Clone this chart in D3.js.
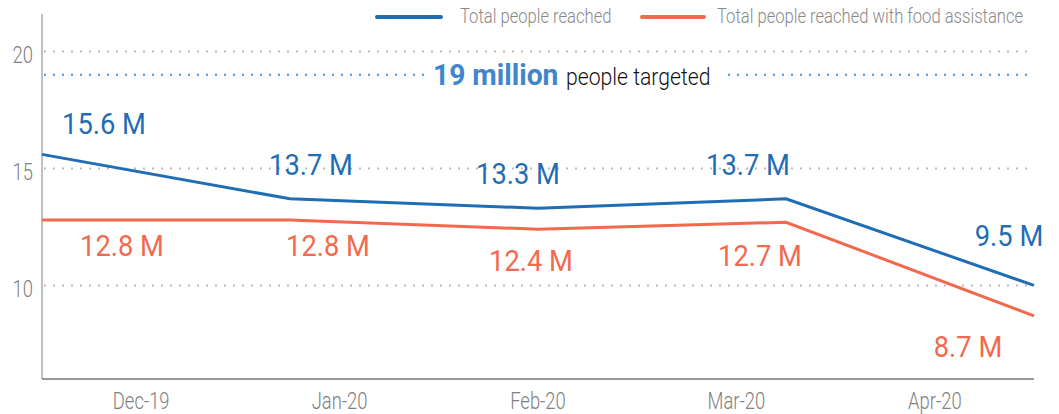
<!DOCTYPE html>
<html>
<head>
<title>People reached</title>
<script src="https://d3js.org/d3.v7.min.js"></script>
</head>
<body style="margin:0">
<style>
text { font-family: Roboto, "Noto Sans", sans-serif; }
</style>
<script>

// data
var months = ['Dec-19','Jan-20','Feb-20','Mar-20','Apr-20'];
var reached = [15.6, 13.7, 13.3, 13.7, 10.0];
var reachedLabels = ['15.6 M','13.7 M','13.3 M','13.7 M','9.5 M'];
var food = [12.8, 12.8, 12.4, 12.7, 8.7];
var foodLabels = ['12.8 M','12.8 M','12.4 M','12.7 M','8.7 M'];
var yTicks = [10, 15, 20];
var target = 19;
var seriesNames = ['Total people reached', 'Total people reached with food assistance'];

// label offsets from each point (placement only)
var reachedOff = [[62,-20],[21,-24],[-20,-24],[-38,-24],[-25,-39]];
var foodOff = [[80,36],[38,36],[-7,42],[-26,44],[-66,41]];

var blue = '#1f6db4', red = '#f2694e';

var W = 1059, H = 414;
var plotL = 42, plotR = 1034, plotT = 14, plotB = 379;

var svg = d3.select('body').append('svg').attr('width', W).attr('height', H);

var x = d3.scalePoint().domain(months).range([plotL, plotR]);
var xBand = d3.scaleBand().domain(months).range([plotL, plotR]);
var y = d3.scaleLinear().domain([6, 21.6]).range([plotB, plotT]);

// squeeze text to mimic a condensed face
function condense(sel, k) {
	sel.each(function(){
		var t = d3.select(this);
		t.attr('textLength', this.getComputedTextLength() * k).attr('lengthAdjust', 'spacingAndGlyphs');
	});
}

// grid
svg.selectAll('.grid').data(yTicks).enter().append('line')
	.attr('x1', plotL + 2).attr('x2', plotR)
	.attr('y1', function(d){ return y(d); }).attr('y2', function(d){ return y(d); })
	.style('stroke', '#bbb').style('stroke-width', 2).style('stroke-dasharray', '2,7');

svg.selectAll('.ytick').data(yTicks).enter().append('text')
	.attr('x', 33).attr('y', function(d){ return y(d) + 12; })
	.attr('text-anchor', 'end')
	.style('font-size', '23px').style('font-weight', 300).style('fill', '#808080')
	.text(function(d){ return d; })
	.call(condense, 0.8);

// target line
svg.append('line')
	.attr('x1', plotL + 2).attr('x2', plotR)
	.attr('y1', y(target)).attr('y2', y(target))
	.style('stroke', '#4a8fd0').style('stroke-width', 2).style('stroke-dasharray', '2,7');

var tg = svg.append('g');
tg.append('rect').attr('x', 427).attr('y', 60).attr('width', 294).attr('height', 32).style('fill', '#fff');
tg.append('text').attr('x', 433).attr('y', 85)
	.style('font-size', '30px').style('font-weight', 700).style('fill', '#3f86cc')
	.text(target + ' million').call(condense, 0.94);
tg.append('text').attr('x', 566).attr('y', 85)
	.style('font-size', '23px').style('font-weight', 300).style('fill', '#111')
	.text('people targeted').call(condense, 0.92);

// axes
svg.append('line').attr('x1', plotL).attr('x2', plotL).attr('y1', plotT).attr('y2', plotB)
	.style('stroke', '#aaa').style('stroke-width', 1.5);
svg.append('line').attr('x1', plotL).attr('x2', plotR).attr('y1', plotB).attr('y2', plotB)
	.style('stroke', '#999').style('stroke-width', 2);

svg.selectAll('.xtick').data(months).enter().append('text')
	.attr('x', function(d){ return xBand(d) + xBand.bandwidth() / 2; })
	.attr('y', 409)
	.attr('text-anchor', 'middle')
	.style('font-size', '23px').style('font-weight', 300).style('fill', '#808080')
	.text(function(d){ return d; })
	.call(condense, 0.8);

// lines
var line = d3.line().x(function(d, i){ return x(months[i]); }).y(function(d){ return y(d); });

[[food, red, foodLabels, foodOff], [reached, blue, reachedLabels, reachedOff]].forEach(function(s){
	svg.append('path').datum(s[0]).attr('d', line)
		.style('fill', 'none').style('stroke', s[1]).style('stroke-width', 3);
	svg.selectAll(null).data(s[0]).enter().append('text')
		.attr('x', function(d, i){ return x(months[i]) + s[3][i][0]; })
		.attr('y', function(d, i){ return y(d) + s[3][i][1]; })
		.attr('text-anchor', 'middle')
		.style('font-size', '30px').style('fill', s[1])
		.text(function(d, i){ return s[2][i]; })
		.call(condense, 0.91);
});

// legend
var legend = [[377, 441, 460, blue], [642, 704, 717, red]];
legend.forEach(function(l, i){
	svg.append('line').attr('x1', l[0]).attr('x2', l[1]).attr('y1', 17).attr('y2', 17)
		.style('stroke', l[3]).style('stroke-width', 4).style('stroke-linecap', 'round');
	svg.append('text').attr('x', l[2]).attr('y', 23)
		.style('font-size', '20px').style('font-weight', 300).style('fill', '#888')
		.text(seriesNames[i]).call(condense, 0.83);
});

</script>
</body>
</html>
